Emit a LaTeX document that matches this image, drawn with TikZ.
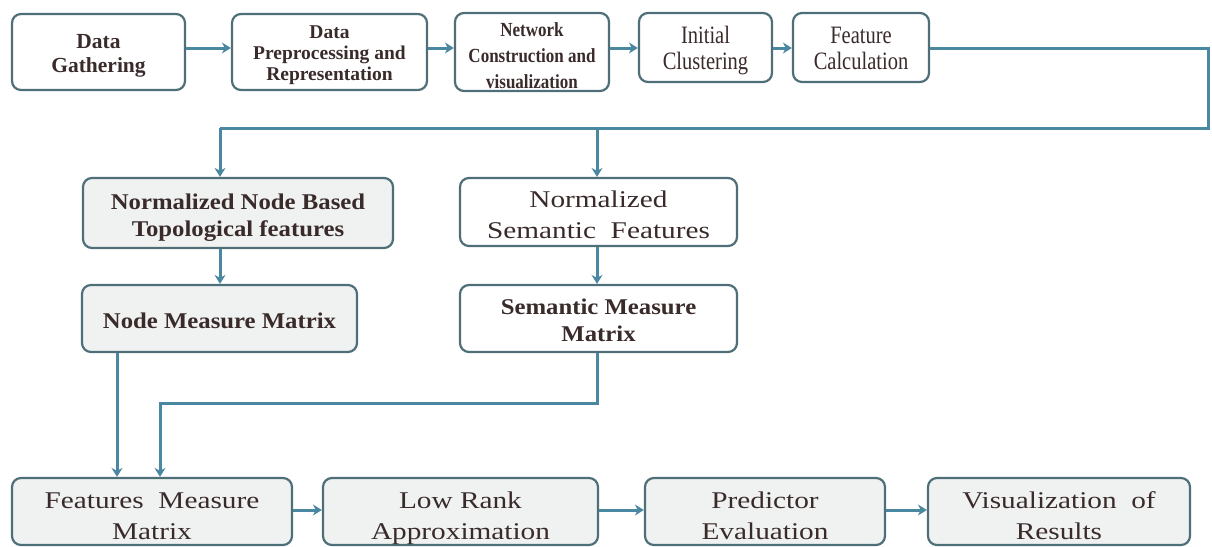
\documentclass[tikz,border=0pt]{standalone}
\usepackage{fontspec}
\setmainfont{Liberation Serif}
\newfontfamily\fWide{Liberation Serif}[FakeStretch=1.22]
\newfontfamily\fWideB{Liberation Serif Bold}[FakeStretch=1.1]
\newfontfamily\fNarrow{Liberation Serif}[FakeStretch=0.82]
\newfontfamily\fNarrowB{Liberation Serif Bold}[FakeStretch=0.85]
\newfontfamily\fBold{Liberation Serif Bold}
\usetikzlibrary{arrows.meta}
\newcommand{\tx}[2][4]{\raisebox{-#1pt}[\height][\depth]{\begin{tabular}{@{}c@{}}#2\end{tabular}}}
\definecolor{boxc}{HTML}{4E6E78}
\definecolor{arrc}{HTML}{4A88A2}
\definecolor{fillg}{HTML}{F0F2F2}
\definecolor{txtc}{HTML}{3A2B2B}
\tikzset{
  box/.style={draw=boxc, line width=2.2pt, rounded corners=9pt, fill=white, text=txtc, inner sep=0pt},
  gbox/.style={box, fill=fillg},
  wtext/.style={font=\fWide\fontsize{24}{31}\selectfont},
  ntext/.style={font=\fNarrow\fontsize{25}{26}\selectfont},
  bwide/.style={font=\fWideB\fontsize{22.5}{27}\selectfont},
  bnarrow/.style={font=\fNarrowB\fontsize{20}{26}\selectfont},
  bone/.style={font=\fBold\fontsize{21.5}{24}\selectfont},
  btwo/.style={font=\fBold\fontsize{19.5}{21}\selectfont},
  conn/.style={draw=arrc, line width=3pt, -{Stealth[length=9pt,width=11pt]}},
  plain/.style={draw=arrc, line width=3pt}
}
\begin{document}
\begin{tikzpicture}[x=1pt,y=-1pt]
\useasboundingbox (0,0) rectangle (1212,546);
% top row
\node[box,bone,minimum width=173pt,minimum height=76pt] (g1) at (98.5,52) {\tx[4]{Data\\Gathering}};
\node[box,btwo,minimum width=195pt,minimum height=76pt] (g2) at (329.5,52) {\tx[3]{Data\\Preprocessing and\\Representation}};
\node[box,bnarrow,minimum width=154pt,minimum height=77pt] (g3) at (532,52) {\tx[5]{Network\\Construction and\\visualization}};
\node[box,ntext,minimum width=133pt,minimum height=69pt] (g4) at (705.5,47.5) {\tx[3.5]{Initial\\Clustering}};
\node[box,ntext,minimum width=136pt,minimum height=69pt] (g5) at (861,47.5) {\tx[3.5]{Feature\\Calculation}};
% middle
\node[gbox,bwide,minimum width=310pt,minimum height=70pt] (n1) at (238,213) {\tx[4.5]{Normalized Node Based\\Topological features}};
\node[box,wtext,minimum width=277pt,minimum height=68pt] (n2) at (598.5,212) {\tx[5]{Normalized\\Semantic\ \ Features}};
\node[gbox,bwide,minimum width=275pt,minimum height=67pt] (m1) at (219.5,318.5) {\tx[4.5]{Node Measure Matrix}};
\node[box,bwide,minimum width=277pt,minimum height=67pt] (m2) at (598.5,318.5) {\tx[4]{Semantic Measure\\Matrix}};
% bottom
\node[gbox,wtext,minimum width=280pt,minimum height=67pt] (b1) at (152,511.5) {\tx[6.5]{Features\ \ Measure\\Matrix}};
\node[gbox,wtext,minimum width=275pt,minimum height=67pt] (b2) at (460.5,511.5) {\tx[6.5]{Low Rank\\Approximation}};
\node[gbox,wtext,minimum width=240pt,minimum height=67pt] (b3) at (765,511.5) {\tx[6.5]{Predictor\\Evaluation}};
\node[gbox,wtext,minimum width=262pt,minimum height=67pt] (b4) at (1059,511.5) {\tx[6.5]{Visualization\ \ of\\Results}};
% coordinates
\coordinate (r1) at (1208,48);
\coordinate (r2) at (1208,128);
\coordinate (l1) at (220,128);
\coordinate (s1) at (597,128);
\coordinate (d1) at (597,403);
\coordinate (d2) at (160,403);
\coordinate (v1) at (117,403);
% top row connectors
\draw[conn] (g1.east |- 0,48) -- (g2.west |- 0,48);
\draw[conn] (g2.east |- 0,48) -- (g3.west |- 0,48);
\draw[conn] (g3.east |- 0,48) -- (g4.west |- 0,48);
\draw[conn] (g4.east |- 0,48) -- (g5.west |- 0,48);
% feature calc branch
\draw[plain] (g5.east |- 0,48) -- (r1) -- (r2) -- (l1);
\draw[conn] (l1) -- (l1 |- n1.north);
\draw[conn] (s1) -- (s1 |- n2.north);
\draw[conn] (n1.south -| l1) -- (m1.north -| l1);
\draw[conn] (n2.south -| s1) -- (m2.north -| s1);
% to bottom
\draw[conn] (m1.south -| v1) -- (b1.north -| v1);
\draw[conn] (m2.south -| d1) -- (d1) -- (d2) -- (d2 |- b1.north);
% bottom row
\draw[conn] (b1.east |- 0,510) -- (b2.west |- 0,510);
\draw[conn] (b2.east |- 0,510) -- (b3.west |- 0,510);
\draw[conn] (b3.east |- 0,510) -- (b4.west |- 0,510);
\end{tikzpicture}
\end{document}
